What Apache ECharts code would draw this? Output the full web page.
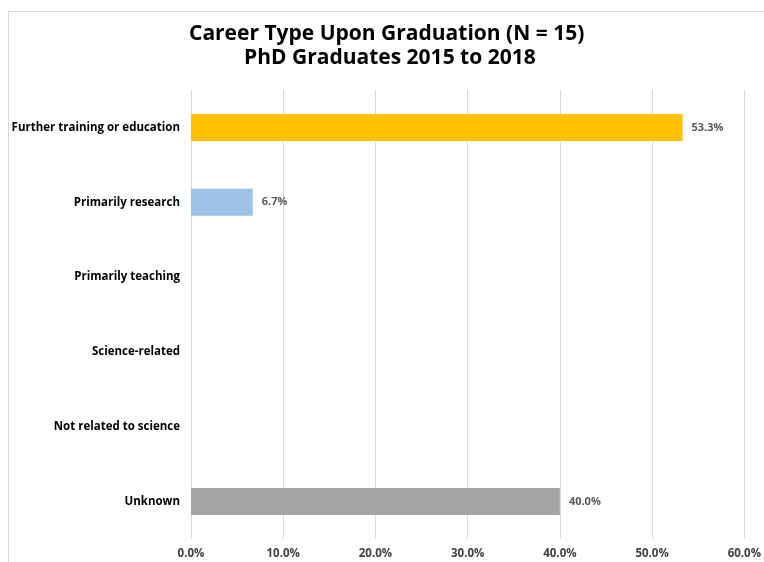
<!DOCTYPE html>
<html>
<head>
<meta charset="utf-8">
<script src="https://cdn.jsdelivr.net/npm/echarts@6/dist/echarts.min.js"></script>
<style>html,body{margin:0;padding:0;background:#fff;}#c{width:764px;height:562px;}</style>
</head>
<body>
<div id="c"></div>
<script>
const categories = ["Further training or education","Primarily research","Primarily teaching","Science-related","Not related to science","Unknown"];
const values = [53.3, 6.7, 0, 0, 0, 40.0];
const barColors = ["#FFC000","#9DC3E6","#5B9BD5","#70AD47","#ED7D31","#A5A5A5"];
const xTicks = [0,10,20,30,40,50,60];
const titleLines = ["Career Type Upon Graduation (N = 15)", "PhD Graduates 2015 to 2018"];

const chart = echarts.init(document.getElementById('c'));
const font = "Open Sans";
const tStyle = {fontFamily:font,fontSize:21,fontWeight:'bold',color:'#000'};
chart.setOption({
  animation:false,
  graphic:[{type:'rect',shape:{x:8.5,y:11.5,width:800,height:600},style:{fill:'none',stroke:'#D9D9D9',lineWidth:1}}],
  title:[
    {text:titleLines[0], left:189, top:24, padding:0, textStyle:tStyle},
    {text:titleLines[1], left:244, top:48, padding:0, textStyle:tStyle}
  ],
  grid:{left:191,right:19.5,top:90,bottom:23},
  xAxis:{type:'value',min:0,max:60,interval:10,
    axisLine:{show:false},axisTick:{show:false},
    splitLine:{lineStyle:{color:'#D9D9D9',width:1}},
    axisLabel:{margin:9,formatter:v=>v.toFixed(1)+'%',fontFamily:font,fontWeight:'bold',fontSize:11.5,color:'#404040'}
  },
  yAxis:{type:'category',data:categories,inverse:true,
    axisLine:{show:false},axisTick:{show:false},
    axisLabel:{margin:11,fontFamily:font,fontWeight:'bold',fontSize:11.5,color:'#000'}
  },
  series:[{type:'bar',barWidth:27,
    data:values.map((v,i)=>({value:v,itemStyle:{color:barColors[i]}})),
    label:{show:true,position:'right',distance:9,fontFamily:font,fontWeight:'bold',fontSize:11,color:'#595959',
      formatter:p=>p.value>0?p.value.toFixed(1)+'%':''}
  }]
});
</script>
</body>
</html>
